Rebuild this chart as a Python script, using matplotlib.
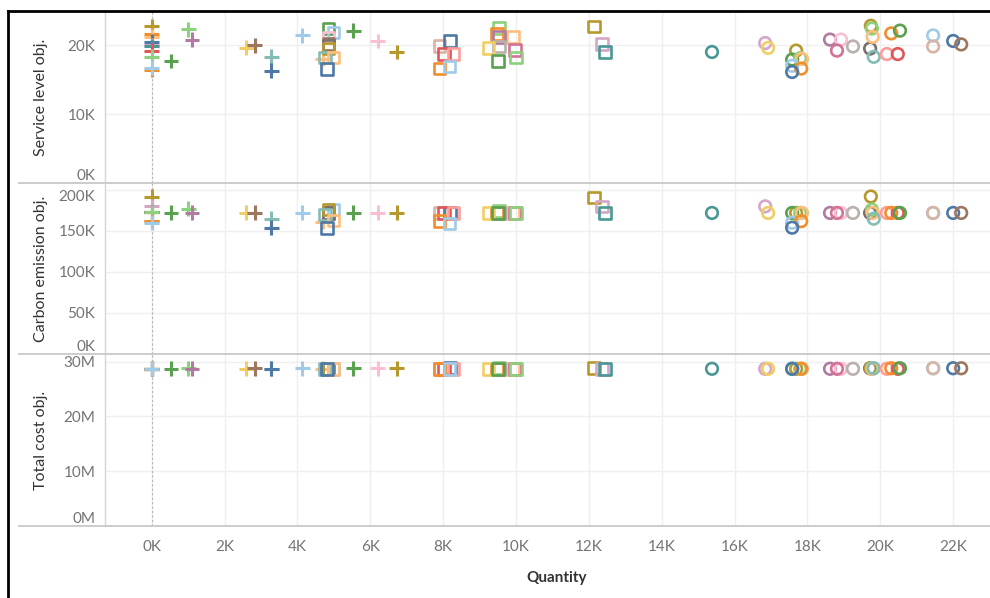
import matplotlib
matplotlib.use("Agg")
import matplotlib.pyplot as plt
from matplotlib.lines import Line2D
from matplotlib.ticker import FuncFormatter

plt.rcParams['font.family'] = ['Lato', 'DejaVu Sans']

# Tableau 20 palette, indexed by category id
palette = ['#4E79A7', '#A0CBE8', '#F28E2B', '#FFBE7D', '#59A14F',
           '#8CD17D', '#B6992D', '#F1CE63', '#499894', '#86BCB6',
           '#E15759', '#FF9D9A', '#79706E', '#BAB0AC', '#D37295',
           '#FABFD2', '#B07AA1', '#D4A6C8', '#9D7660', '#D7B5A6']

# plus-shaped marks
plus_qty = [0, 0, 0, 0, 0, 0, 0, 0, 0, 0,
            530, 1000, 1105, 2590, 2830, 3280, 3280, 4130, 4700, 5530, 6210, 6730]
plus_service = [22700, 21600, 21200, 20500, 20000, 19800, 19200, 18300, 16400, 16700,
                17700, 22300, 20800, 19600, 20000, 18300, 16300, 21400, 18000, 22100, 20600, 19000]
plus_carbon = [191500, 162000, 173000, 173000, 180000, 173000, 173000, 173000, 162000, 160000,
               172000, 177000, 172000, 172000, 172000, 165000, 154000, 172000, 161000, 172000, 172000, 172000]
plus_cost = [28.7e6, 28.7e6, 28.7e6, 28.7e6, 28.7e6, 28.7e6, 28.7e6, 28.7e6, 28.7e6, 28.7e6,
             28.7e6, 28.8e6, 28.7e6, 28.7e6, 28.8e6, 28.7e6, 28.7e6, 28.8e6, 28.7e6, 28.8e6, 28.8e6, 28.8e6]
plus_cat = [6, 2, 3, 0, 17, 8, 10, 5, 2, 1,
            4, 5, 16, 7, 18, 9, 0, 1, 3, 4, 15, 6]

# square marks
square_qty = [4850, 4990, 4850, 4850, 4850, 4850, 4760, 4990, 4820,
              7900, 8190, 8030, 8280, 7900, 8170,
              9540, 9480, 9920, 9540, 9540, 9240, 9980, 9510, 10000,
              12140, 12360, 12450]
square_service = [22400, 21800, 21100, 20200, 19900, 19500, 18200, 18200, 16500,
                  19900, 20600, 18700, 18700, 16600, 16900,
                  22500, 21600, 21200, 21200, 19800, 19600, 19300, 17700, 18200,
                  22700, 20200, 19000]
square_carbon = [172000, 176000, 172000, 172000, 172000, 176000, 170000, 163000, 154000,
                 172000, 172000, 172000, 172000, 162000, 159000,
                 174000, 172000, 172000, 172000, 172000, 172000, 172000, 172000, 172000,
                 191000, 180000, 172000]
square_cost = [28.7e6, 28.7e6, 28.7e6, 28.7e6, 28.7e6, 28.7e6, 28.7e6, 28.7e6, 28.7e6,
               28.7e6, 28.8e6, 28.7e6, 28.7e6, 28.7e6, 28.7e6,
               28.8e6, 28.7e6, 28.7e6, 28.7e6, 28.7e6, 28.7e6, 28.7e6, 28.7e6, 28.7e6,
               28.8e6, 28.7e6, 28.7e6]
square_cat = [4, 1, 15, 18, 12, 6, 9, 3, 0,
              19, 0, 10, 11, 2, 1,
              5, 2, 3, 16, 13, 7, 14, 4, 5,
              6, 17, 8]

# circle marks
circle_qty = [15380, 16840, 16920, 17690, 17580, 17800, 17850, 17580, 17830, 17580,
              18620, 18920, 18810, 19250, 19720, 19740, 19770, 19790, 19820,
              20180, 20480, 20300, 20540, 21450, 21450, 22000, 22220]
circle_service = [19000, 20300, 19600, 19200, 17900, 18100, 18000, 17000, 16600, 16100,
                  20800, 20800, 19200, 19800, 19500, 22800, 22400, 21200, 18300,
                  18700, 18700, 21700, 22100, 21400, 19800, 20600, 20100]
circle_carbon = [172000, 180000, 172000, 172000, 172000, 172000, 172000, 160000, 162000, 154000,
                 172000, 172000, 172000, 172000, 172000, 192000, 176000, 172000, 165000,
                 172000, 172000, 172000, 172000, 172000, 172000, 172000, 172000]
circle_cost = [28.7e6, 28.7e6, 28.7e6, 28.7e6, 28.7e6, 28.7e6, 28.7e6, 28.7e6, 28.7e6, 28.7e6,
               28.7e6, 28.7e6, 28.7e6, 28.7e6, 28.8e6, 28.8e6, 28.8e6, 28.7e6, 28.8e6,
               28.7e6, 28.7e6, 28.8e6, 28.8e6, 28.8e6, 28.8e6, 28.8e6, 28.8e6]
circle_cat = [8, 17, 7, 6, 4, 5, 3, 1, 2, 0,
              16, 15, 14, 13, 12, 6, 5, 3, 9,
              11, 10, 2, 4, 1, 19, 0, 18]

panel_titles = ['Service level obj.', 'Carbon emission obj.', 'Total cost obj.']
x_ticks = [0, 2000, 4000, 6000, 8000, 10000, 12000, 14000, 16000, 18000, 20000, 22000]
y_ticks = [[0, 10000, 20000],
           [0, 50000, 100000, 150000, 200000],
           [0, 10e6, 20e6, 30e6]]
y_max = [24800, 208500, 31400000]

GRID = '#efefef'
TICK = '#747474'
TITLE = '#333333'
DIVIDER = '#c8c8c8'

W, H = 990, 598
fig = plt.figure(figsize=(W / 100, H / 100), dpi=100)

left_px, right_px = 105, 990
rows_px = [(12, 183), (183, 354), (354, 526)]

fmt_k = FuncFormatter(lambda v, p: f'{v / 1000:.0f}K')
fmt_m = FuncFormatter(lambda v, p: f'{v / 1e6:.0f}M')

groups = [
    (plus_qty, [plus_service, plus_carbon, plus_cost], plus_cat, '+'),
    (square_qty, [square_service, square_carbon, square_cost], square_cat, 's'),
    (circle_qty, [circle_service, circle_carbon, circle_cost], circle_cat, 'o'),
]

axes = []
for i, (top, bot) in enumerate(rows_px):
    ax = fig.add_axes([left_px / W, 1 - bot / H, (right_px - left_px) / W, (bot - top) / H])
    axes.append(ax)
    ax.set_xlim(-1282, 23011)
    ax.set_ylim(0, y_max[i])
    ax.set_xticks(x_ticks)
    ax.set_yticks(y_ticks[i])
    ax.yaxis.set_major_formatter(fmt_m if i == 2 else fmt_k)
    ax.xaxis.set_major_formatter(fmt_k)
    ax.grid(True, color=GRID, lw=1.0, zorder=0)
    ax.set_axisbelow(True)
    for s in ['top', 'right', 'bottom']:
        ax.spines[s].set_visible(False)
    ax.spines['left'].set_color('#d6d6d6')
    ax.spines['left'].set_linewidth(1.0)
    ax.tick_params(length=0, labelsize=11, labelcolor=TICK, pad=7)
    if i < 2:
        ax.tick_params(axis='x', labelbottom=False)
    else:
        ax.tick_params(axis='x', pad=10)

    # zero reference line
    ax.axvline(0, color='#b4b4b4', lw=0.8, ls=(0, (2, 2)), zorder=1)

    for qty, vals, cats, mk in groups:
        cols = [palette[c] for c in cats]
        if mk == '+':
            ax.scatter(qty, vals[i], marker='+', s=115, c=cols, linewidths=2.2, zorder=3)
        else:
            ax.scatter(qty, vals[i], marker=mk, s=70, facecolors='none',
                       edgecolors=cols, linewidths=1.9, zorder=3)

    # keep edge tick labels inside the panel
    fig.canvas.draw()
    labels = ax.get_yticklabels()
    labels[0].set_verticalalignment('bottom')
    if i == 1:
        labels[-1].set_verticalalignment('top')

    fig.text(41 / W, 1 - (top + bot) / 2 / H, panel_titles[i], rotation=90,
             ha='center', va='center', fontsize=11.5, color=TITLE)

# row dividers
for y in [183, 354, 526]:
    fig.add_artist(Line2D([19 / W, 1], [1 - y / H, 1 - y / H], color=DIVIDER, lw=1.3,
                          transform=fig.transFigure))

fig.text(557 / W, 1 - 578 / H, 'Quantity', ha='center', va='center',
         fontsize=11, fontweight='bold', color=TITLE)

# outer frame
fig.add_artist(Line2D([7.5 / W, 7.5 / W], [0, 1 - 11 / H], color='black', lw=2.0,
                      transform=fig.transFigure))
fig.add_artist(Line2D([7.5 / W, 1], [1 - 11 / H, 1 - 11 / H], color='black', lw=2.0,
                      transform=fig.transFigure))

fig.savefig('out.png', dpi=100)
